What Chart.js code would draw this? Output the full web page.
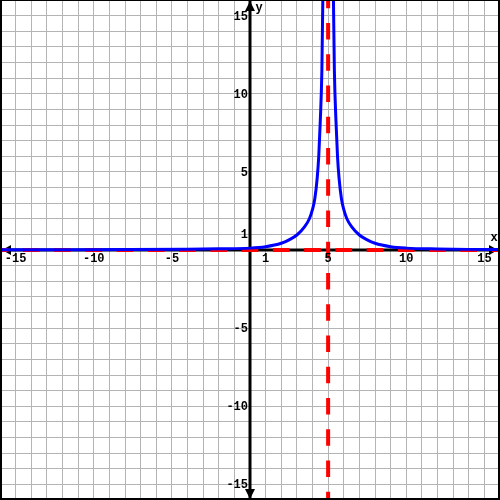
<!DOCTYPE html>
<html>
<head>
<meta charset="utf-8">
<script src="https://cdn.jsdelivr.net/npm/chart.js@4/dist/chart.umd.min.js"></script>
<style>
  body { margin: 0; background: #fff; }
  #graph { display: block; }
</style>
</head>
<body>
<canvas id="graph" width="500" height="500"></canvas>
<script>
// DATA

// left branch of the curve, x < 5
const leftX = [-16, -12, -8, -4, -2, 0, 1, 2, 2.5, 3, 3.5, 3.8, 4, 4.15, 4.3, 4.4, 4.5, 4.6, 4.66, 4.7];
const leftY = [0.01, 0.015, 0.025, 0.05, 0.08, 0.12, 0.21, 0.43, 0.65, 0.96, 1.5, 2.0, 2.6, 3.3, 4.6, 6.0, 8.3, 11.5, 16, 21];

// right branch of the curve, x > 5
const rightX = [5.3, 5.34, 5.4, 5.5, 5.6, 5.7, 5.85, 6, 6.2, 6.5, 7, 7.5, 8, 9, 10, 12, 14, 16];
const rightY = [21, 16, 11.5, 8.3, 6.0, 4.6, 3.3, 2.6, 2.0, 1.5, 0.96, 0.65, 0.43, 0.21, 0.12, 0.065, 0.04, 0.03];

// asymptotes x = 5 and y = 0
const vAsymX = [5, 5];
const vAsymY = [16, -16];
const hAsymX = [-16, 16];
const hAsymY = [0, 0];

// tick labels shown next to the axes
const xTickLabels = [-15, -10, -5, 1, 5, 10, 15];
const yTickLabels = [15, 10, 5, 1, -5, -10, -15];

const toPoints = (xs, ys) => xs.map((v, i) => ({ x: v, y: ys[i] }));

const labelFont = 'bold 12px "Liberation Mono", "Courier New", monospace';

// axes with arrows, labels and the outer frame
const axesPlugin = {
    id: 'axes',
    beforeDatasetsDraw(chart) {
        const { ctx, chartArea: a, scales: { x, y } } = chart;
        const x0 = x.getPixelForValue(0);
        const y0 = y.getPixelForValue(0);
        ctx.save();
        ctx.strokeStyle = '#000';
        ctx.fillStyle = '#000';
        ctx.lineWidth = 3;
        ctx.beginPath();
        ctx.moveTo(a.left, y0);
        ctx.lineTo(a.right, y0);
        ctx.moveTo(x0, a.top);
        ctx.lineTo(x0, a.bottom);
        ctx.stroke();

        // arrow heads
        ctx.beginPath();
        ctx.moveTo(x0, a.top + 1); ctx.lineTo(x0 - 5, a.top + 11); ctx.lineTo(x0 + 5, a.top + 11);
        ctx.closePath();
        ctx.moveTo(x0, a.bottom - 1); ctx.lineTo(x0 - 5, a.bottom - 11); ctx.lineTo(x0 + 5, a.bottom - 11);
        ctx.closePath();
        ctx.moveTo(a.left + 2, y0); ctx.lineTo(a.left + 11, y0 - 5); ctx.lineTo(a.left + 11, y0 + 5);
        ctx.closePath();
        ctx.moveTo(a.right - 2, y0); ctx.lineTo(a.right - 11, y0 - 5); ctx.lineTo(a.right - 11, y0 + 5);
        ctx.closePath();
        ctx.fill();
        ctx.restore();
    },
    afterDraw(chart) {
        const { ctx, chartArea: a, scales: { x, y } } = chart;
        const x0 = x.getPixelForValue(0);
        const y0 = y.getPixelForValue(0);
        ctx.save();
        ctx.fillStyle = '#000';
        ctx.font = labelFont;

        ctx.textAlign = 'center';
        ctx.textBaseline = 'top';
        xTickLabels.forEach(v => ctx.fillText(String(v), x.getPixelForValue(v), y0 + 3));

        ctx.textAlign = 'right';
        ctx.textBaseline = 'middle';
        yTickLabels.forEach(v => ctx.fillText(String(v), x0 - 2, y.getPixelForValue(v) + 1));

        // axis names
        ctx.textAlign = 'center';
        ctx.fillText('x', a.right - 6, y0 - 12);
        ctx.fillText('y', x0 + 9, a.top + 8);

        // frame
        ctx.fillRect(0, 0, 500, 1);
        ctx.fillRect(0, 0, 2, 500);
        ctx.fillRect(498, 0, 2, 500);
        ctx.fillRect(0, 498, 500, 2);
        ctx.restore();
    }
};

const gridOpts = {
    color: '#b4b4b4',
    lineWidth: 1,
    drawTicks: false
};

new Chart(document.getElementById('graph'), {
    type: 'line',
    data: {
        datasets: [
            {
                data: toPoints(leftX, leftY),
                borderColor: '#0000ff',
                borderWidth: 3,
                cubicInterpolationMode: 'monotone',
                pointRadius: 0
            },
            {
                data: toPoints(rightX, rightY),
                borderColor: '#0000ff',
                borderWidth: 3,
                cubicInterpolationMode: 'monotone',
                pointRadius: 0
            },
            {
                data: toPoints(vAsymX, vAsymY),
                borderColor: '#ff0000',
                borderWidth: 4,
                borderDash: [16.7, 14.55],
                borderDashOffset: 8.35,
                pointRadius: 0
            },
            {
                data: toPoints(hAsymX, hAsymY),
                borderColor: '#ff0000',
                borderWidth: 4,
                borderDash: [16.7, 14.55],
                borderDashOffset: 8.35,
                pointRadius: 0
            }
        ]
    },
    options: {
        responsive: false,
        animation: false,
        layout: { padding: 0 },
        scales: {
            x: {
                type: 'linear',
                min: -16,
                max: 16,
                ticks: { stepSize: 1, display: false },
                grid: gridOpts,
                border: { display: false }
            },
            y: {
                type: 'linear',
                min: -16,
                max: 16,
                ticks: { stepSize: 1, display: false },
                grid: gridOpts,
                border: { display: false }
            }
        },
        plugins: {
            legend: { display: false },
            tooltip: { enabled: false }
        }
    },
    plugins: [axesPlugin]
});
</script>
</body>
</html>
